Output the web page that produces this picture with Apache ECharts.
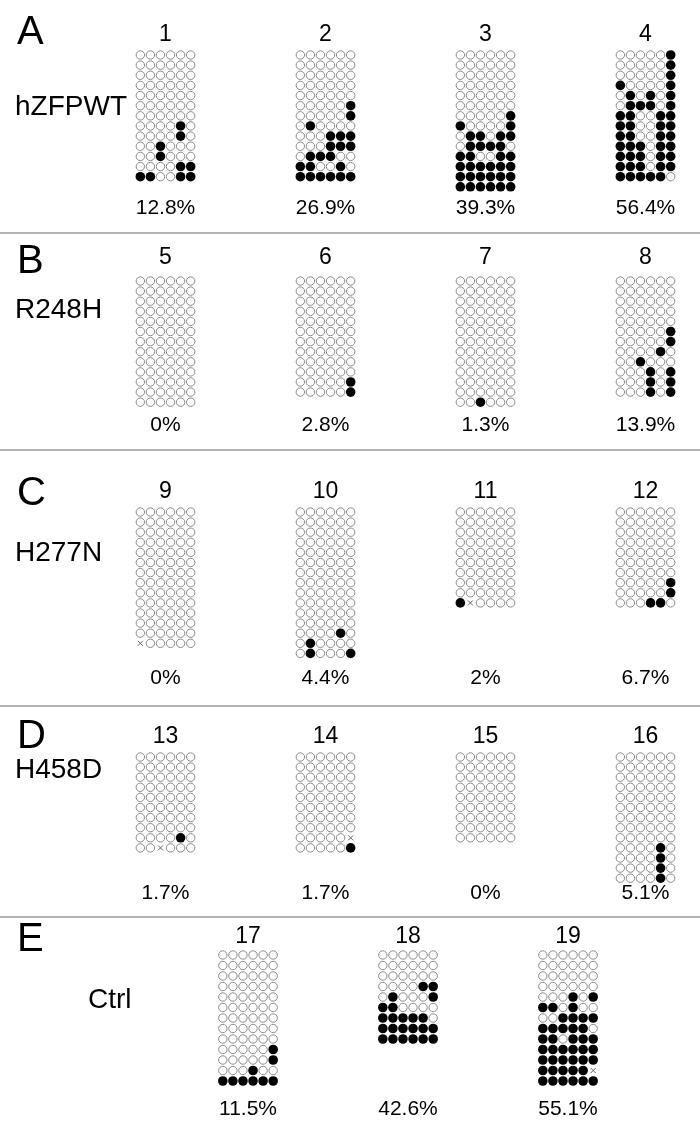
<!DOCTYPE html>
<html><head><meta charset="utf-8">
<script src="https://cdn.jsdelivr.net/npm/echarts@6/dist/echarts.min.js"></script>
<style>html,body{margin:0;padding:0;background:#fff}#c{width:700px;height:1133px}</style>
</head><body><div id="c"></div>
<script>
// ---- data: each sample = list of clone rows; '1' methylated CpG, '0' unmethylated, 'x' not determined
const sampleNames = ['1','2','3','4','5','6','7','8','9','10','11','12','13','14','15','16','17','18','19'];
const percentLabels = ['12.8%','26.9%','39.3%','56.4%','0%','2.8%','1.3%','13.9%','0%','4.4%','2%','6.7%','1.7%','1.7%','0%','5.1%','11.5%','42.6%','55.1%'];
const panelLetters = ['A','B','C','D','E'];
const panelLabels = ['hZFPWT','R248H','H277N','H458D','Ctrl'];
const panelSamples = [[0,1,2,3],[4,5,6,7],[8,9,10,11],[12,13,14,15],[16,17,18]];

const s1 = ['000000','000000','000000','000000','000000','000000','000000','000010','000010','001000','001000','000011','110011'];
const s2 = ['000000','000000','000000','000000','000000','000001','000001','010000','000111','000111','011100','110010','111111'];
const s3 = ['000000','000000','000000','000000','000000','000000','000001','100001','011011','011110','110011','111111','111111','111111'];
const s4 = ['000001','000001','000001','100001','010101','011101','110011','110011','110011','111011','111011','111011','111110'];
const s5 = ['000000','000000','000000','000000','000000','000000','000000','000000','000000','000000','000000','000000','000000'];
const s6 = ['000000','000000','000000','000000','000000','000000','000000','000000','000000','000000','000001','000001'];
const s7 = ['000000','000000','000000','000000','000000','000000','000000','000000','000000','000000','000000','000000','001000'];
const s8 = ['000000','000000','000000','000000','000000','000001','000001','000010','001000','000101','000101','000101'];
const s9 = ['000000','000000','000000','000000','000000','000000','000000','000000','000000','000000','000000','000000','000000','x00000'];
const s10 = ['000000','000000','000000','000000','000000','000000','000000','000000','000000','000000','000000','000000','000010','010000','010001'];
const s11 = ['000000','000000','000000','000000','000000','000000','000000','000000','000000','1x0000'];
const s12 = ['000000','000000','000000','000000','000000','000000','000000','000001','000001','000110'];
const s13 = ['000000','000000','000000','000000','000000','000000','000000','000000','000010','00x000'];
const s14 = ['000000','000000','000000','000000','000000','000000','000000','000000','00000x','000001'];
const s15 = ['000000','000000','000000','000000','000000','000000','000000','000000','000000'];
const s16 = ['000000','000000','000000','000000','000000','000000','000000','000000','000000','000010','000010','000010','000010'];
const s17 = ['000000','000000','000000','000000','000000','000000','000000','000000','000000','000001','000001','000100','111111'];
const s18 = ['000000','000000','000000','000011','010001','110000','111110','111111','111111'];
const s19 = ['000000','000000','000000','000000','000101','110100','001111','111110','110111','111111','111111','11111x','111111'];
const samples = [s1,s2,s3,s4,s5,s6,s7,s8,s9,s10,s11,s12,s13,s14,s15,s16,s17,s18,s19];

// ---- layout
const FONT = "'Liberation Sans', Arial, Helvetica, sans-serif";
const DX = 10.07;
const layout = [
  {titleY:35,  rowY:55,  dy:10.14, pctY:208,  letterY:33,  labelY:107,  labelX:15, sepY:233, cx:[165.5,325.5,485.5,645.5]},
  {titleY:258, rowY:281, dy:10.1,  pctY:425,  letterY:262, labelY:310,  labelX:15, sepY:450, cx:[165.5,325.5,485.5,645.5]},
  {titleY:492, rowY:512, dy:10.1,  pctY:678,  letterY:494, labelY:553,  labelX:15, sepY:706, cx:[165.5,325.5,485.5,645.5]},
  {titleY:737, rowY:757, dy:10.1,  pctY:893,  letterY:737, labelY:770,  labelX:15, sepY:917, cx:[165.5,325.5,485.5,645.5]},
  {titleY:937, rowY:955, dy:10.5,  pctY:1109, letterY:940, labelY:1000, labelX:88, sepY:null, cx:[248,408,568]}
];

const grids = [], xAxes = [], yAxes = [], series = [], graphics = [];
panelSamples.forEach((idxs, p) => {
  const L = layout[p];
  graphics.push({type:'text', x:17, y:L.letterY, style:{text:panelLetters[p], font:'40px '+FONT, fill:'#000', verticalAlign:'middle', align:'left'}});
  graphics.push({type:'text', x:L.labelX, y:L.labelY, style:{text:panelLabels[p], font:'28px '+FONT, fill:'#000', verticalAlign:'middle', align:'left'}});
  if (L.sepY !== null) graphics.push({type:'line', shape:{x1:0,y1:L.sepY,x2:700,y2:L.sepY}, style:{stroke:'#999', lineWidth:1.5}});
  idxs.forEach((si, k) => {
    const rows = samples[si];
    const n = rows.length;
    const cx = L.cx[k];
    const gi = grids.length;
    grids.push({left: cx - 3*DX, top: L.rowY - L.dy/2, width: 6*DX, height: n*L.dy, containLabel:false});
    xAxes.push({gridIndex:gi, type:'value', min:-0.5, max:5.5, show:false});
    yAxes.push({gridIndex:gi, type:'value', min:-0.5, max:n-0.5, inverse:true, show:false});
    const open = [], full = [], miss = [];
    rows.forEach((r, ri) => r.split('').forEach((ch, ci) => {
      if (ch === '1') full.push([ci, ri]); else if (ch === 'x') miss.push([ci, ri]); else open.push([ci, ri]);
    }));
    series.push({type:'scatter', xAxisIndex:gi, yAxisIndex:gi, data:open, symbol:'circle', symbolSize:8.4,
      itemStyle:{color:'#fff', borderColor:'#8a8a8a', borderWidth:1, opacity:1}, silent:true});
    series.push({type:'scatter', xAxisIndex:gi, yAxisIndex:gi, data:full, symbol:'circle', symbolSize:9.6,
      itemStyle:{color:'#000', opacity:1}, silent:true});
    series.push({type:'scatter', xAxisIndex:gi, yAxisIndex:gi, data:miss, symbol:'path://M0,0L10,10M10,0L0,10', symbolSize:5,
      itemStyle:{color:'none', borderColor:'#666', borderWidth:1, opacity:1}, silent:true});
    graphics.push({type:'text', x:cx, y:L.titleY, style:{text:sampleNames[si], font:'23px '+FONT, fill:'#000', align:'center', verticalAlign:'middle'}});
    graphics.push({type:'text', x:cx, y:L.pctY, style:{text:percentLabels[si], font:'21px '+FONT, fill:'#000', align:'center', verticalAlign:'middle'}});
  });
});

const chart = echarts.init(document.getElementById('c'), null, {renderer:'canvas'});
chart.setOption({animation:false, backgroundColor:'#fff', grid:grids, xAxis:xAxes, yAxis:yAxes, series:series, graphic:graphics});
</script></body></html>
